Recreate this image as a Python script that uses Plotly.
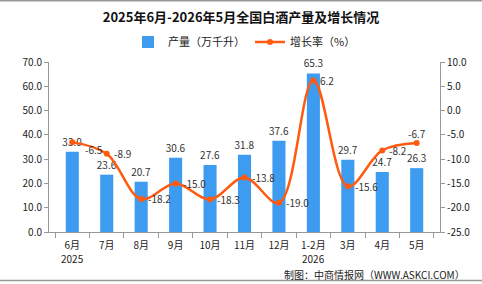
import plotly.graph_objects as go

categories = ["6月", "7月", "8月", "9月", "10月", "11月", "12月", "1-2月", "3月", "4月", "5月"]
year_labels = {"6月": "2025", "1-2月": "2026"}
production = [33.0, 23.6, 20.7, 30.6, 27.6, 31.8, 37.6, 65.3, 29.7, 24.7, 26.3]
growth = [-6.5, -8.9, -18.2, -15.0, -18.3, -13.8, -19.0, 6.2, -15.6, -8.2, -6.7]
left_ticks = [0, 10, 20, 30, 40, 50, 60, 70]
right_ticks = [-25, -20, -15, -10, -5, 0, 5, 10]

FONT = "Noto Sans CJK SC"
BLUE = "#3d9cf0"
ORANGE = "#ff5a10"

# label offsets (px) for growth labels: (xanchor, xshift, yshift)
label_offsets = [("left", 11, -7)] + [("left", 5, 0)] * 9 + [("center", 0, 10)]

fig = go.Figure()
fig.add_trace(go.Bar(
    x=categories, y=production, name="产量（万千升）",
    marker=dict(color=BLUE, line=dict(width=0)), width=0.38,
    text=[f"{v:.1f}" for v in production], textposition="outside",
    textangle=0, constraintext="none",
    textfont=dict(family=FONT, size=10, color="#333"), cliponaxis=False,
))
fig.add_trace(go.Scatter(
    x=categories, y=growth, name="增长率（%）", yaxis="y2",
    mode="lines+markers",
    line=dict(color=ORANGE, width=2.5, shape="spline", smoothing=1.0),
    marker=dict(color=ORANGE, size=6), cliponaxis=False,
))

annotations = [dict(text="制图：中商情报网（WWW.ASKCI.COM）", xref="paper", yref="paper",
                    x=1.07, y=-0.25, xanchor="right", yanchor="middle", showarrow=False,
                    font=dict(family=FONT, size=10, color="#222"))]
for cat, yr in year_labels.items():
    annotations.append(dict(text=yr, xref="x", yref="paper", x=cat, y=-0.155,
                            xanchor="center", yanchor="middle", showarrow=False,
                            font=dict(family=FONT, size=10, color="#222")))
for cat, g, (xa, xs, ys) in zip(categories, growth, label_offsets):
    annotations.append(dict(text=f"{g:.1f}", xref="x", yref="y2", x=cat, y=g,
                            xanchor=xa, yanchor="middle", xshift=xs, yshift=ys,
                            showarrow=False, font=dict(family=FONT, size=10, color="#333")))

fig.update_layout(
    width=482, height=284,
    margin=dict(l=49, r=31, t=62, b=52),
    paper_bgcolor="white", plot_bgcolor="white",
    font=dict(family=FONT, size=10, color="#222"),
    title=dict(text="<b>2025年6月-2026年5月全国白酒产量及增长情况</b>",
               x=0.5, xanchor="center", y=0.94, yanchor="middle",
               font=dict(family=FONT, size=13, color="#111")),
    showlegend=True,
    legend=dict(orientation="h", x=0.5, xanchor="center", y=1.118, yanchor="middle",
                font=dict(family=FONT, size=11, color="#222"),
                itemwidth=30, bgcolor="rgba(0,0,0,0)"),
    bargap=0.6,
    xaxis=dict(type="category", showline=True, linecolor="#999", linewidth=1,
               ticks="outside", tickson="boundaries", ticklen=5, tickcolor="#999",
               ticklabelstandoff=4,
               tickfont=dict(family=FONT, size=10, color="#222"), showgrid=False),
    yaxis=dict(range=[0, 70], tickvals=left_ticks,
               ticktext=[f"{v:.1f}" for v in left_ticks],
               showline=True, linecolor="#999", linewidth=1,
               ticks="outside", ticklen=4, tickcolor="#999", showgrid=False, zeroline=False,
               tickfont=dict(family=FONT, size=10, color="#222")),
    yaxis2=dict(range=[-25, 10], tickvals=right_ticks,
                ticktext=[f"{v:.1f}" for v in right_ticks],
                overlaying="y", side="right",
                showline=True, linecolor="#999", linewidth=1,
                ticks="outside", ticklen=4, tickcolor="#999", showgrid=False, zeroline=False,
                tickfont=dict(family=FONT, size=10, color="#222")),
    shapes=[
        dict(type="line", xref="paper", yref="paper", x0=-0.2, x1=1.2, y0=1.36, y1=1.36,
             line=dict(color="#999", width=1.5)),
        dict(type="line", xref="paper", yref="paper", x0=-0.2, x1=1.2, y0=-0.285, y1=-0.285,
             line=dict(color="#999", width=1.5)),
    ],
    annotations=annotations,
)

fig.write_html("out.html")
